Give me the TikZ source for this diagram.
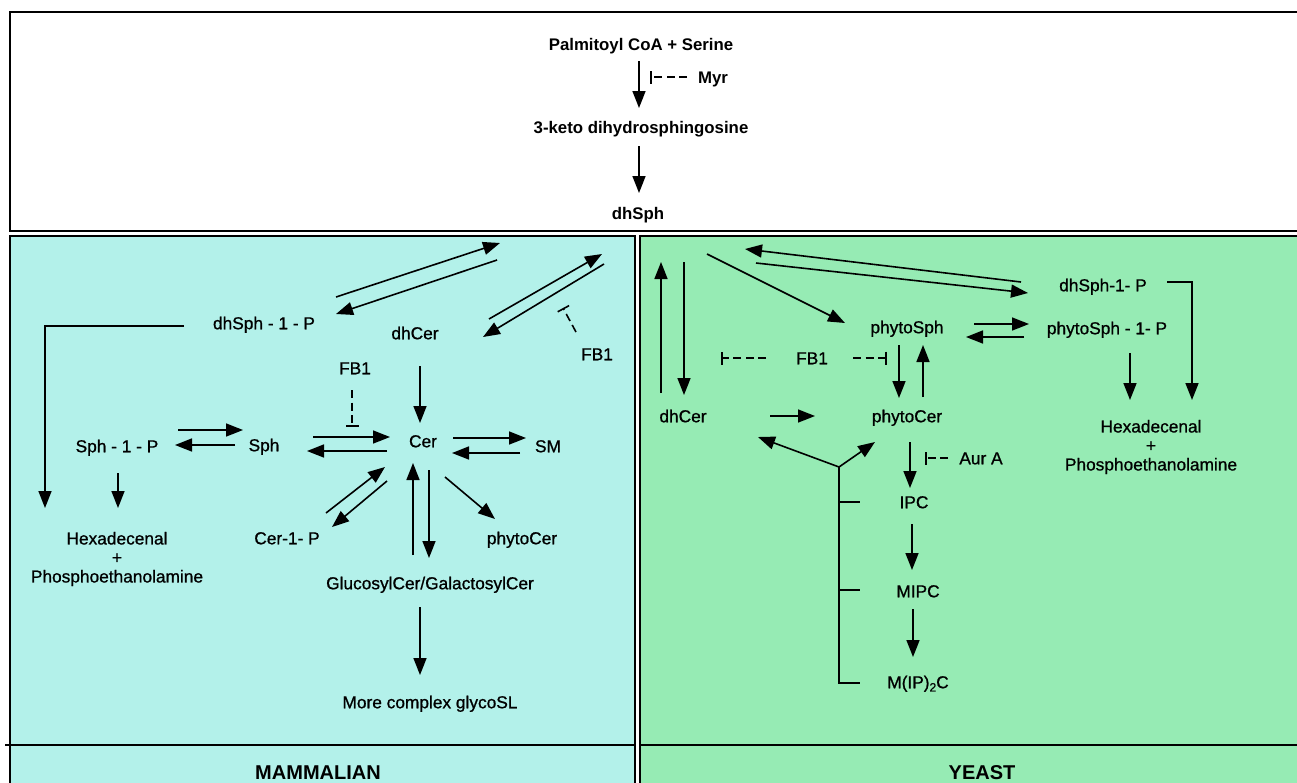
\documentclass[tikz,border=0pt]{standalone}
\usepackage{fontspec}
\setmainfont{Liberation Sans}
\newfontfamily\medfont[FakeBold=0.9]{Liberation Sans}
\usetikzlibrary{arrows.meta}
\definecolor{cyanbg}{RGB}{179,241,234}
\definecolor{greenbg}{RGB}{150,235,180}
\begin{document}
\begin{tikzpicture}[x=1pt,y=-1pt,
  lbl/.style={font=\medfont\fontsize{17.3}{19}\selectfont, inner sep=0pt, text height=12.5pt, text depth=0pt},
  mlbl/.style={font=\medfont\fontsize{17.3}{19}\selectfont, inner sep=0pt, align=center},
  blbl/.style={font=\fontsize{16.8}{19}\selectfont\bfseries, inner sep=0pt, text height=12pt, text depth=0pt},
  title/.style={font=\fontsize{20}{22}\selectfont\bfseries, inner sep=0pt, text height=14pt, text depth=0pt},
  arr/.style={line width=1.6pt, -{Triangle[length=17pt,width=13pt]}},
  ln/.style={line width=1.6pt},
  inh/.style={line width=1.6pt, dash pattern=on 8pt off 4.5pt, -{Bar[width=13pt]}},
  frame/.style={line width=2.2pt},
  thinframe/.style={line width=1.5pt}]
\useasboundingbox (0,0) rectangle (1297,782);
\clip (0,0) rectangle (1297,782);
\fill[white] (0,0) rectangle (1297,782);

% frames
\draw[frame] (10,12) rectangle (1320,231);
\draw[thinframe, fill=cyanbg] (10,236) rectangle (635,800);
\draw[thinframe, fill=greenbg] (640,236) rectangle (1320,800);
\draw[frame] (5,745) -- (635,745);
\draw[frame] (640,745) -- (1320,745);

% ---------- top ----------
\node[blbl] (pal) at (641,44) {Palmitoyl CoA + Serine};
\node[blbl] (myr) at (713,77) {Myr};
\node[blbl] (keto) at (641,127) {3-keto dihydrosphingosine};
\node[blbl] (dhsph) at (638,213) {dhSph};
\coordinate (t1s) at (639,61);  \coordinate (t1e) at (639,108);
\coordinate (t2s) at (639,146); \coordinate (t2e) at (639,193);
\coordinate (m1s) at (687,77);  \coordinate (m1e) at (650,77);
\draw[arr] (t1s) -- (t1e);
\draw[arr] (t2s) -- (t2e);
\draw[inh] (m1s) -- (m1e);

% ---------- mammalian ----------
\node[lbl] (Ldhsphp) at (264,323) {dhSph - 1 - P};
\node[lbl] (Ldhcer) at (415,333) {dhCer};
\node[lbl] (Lfbm) at (355,368) {FB1};
\node[lbl] (Lfbr) at (597,354) {FB1};
\node[lbl] (Lsphp) at (117,446) {Sph - 1 - P};
\node[lbl] (Lsph) at (264,445) {Sph};
\node[lbl] (Lcer) at (423,441) {Cer};
\node[lbl] (Lsm) at (548,446) {SM};
\node[mlbl] (Lhexa) at (117,559) {Hexadecenal\\+\\Phosphoethanolamine};
\node[lbl] (Lcer1p) at (287,538) {Cer-1- P};
\node[lbl] (Lphyto) at (522,538) {phytoCer};
\node[lbl] (Lgluc) at (430,583) {GlucosylCer/GalactosylCer};
\node[lbl] (Lmore) at (430,702) {More complex glycoSL};
\node[title] (Lmam) at (318,772) {MAMMALIAN};

\coordinate (L1s) at (336,297); \coordinate (L1e) at (500,243);
\coordinate (L2s) at (497,260); \coordinate (L2e) at (336,314);
\coordinate (L3s) at (489,319); \coordinate (L3e) at (602,254);
\coordinate (L4s) at (604,264); \coordinate (L4e) at (483,337);
\coordinate (Lf1s) at (576,332); \coordinate (Lf1e) at (563,308);
\coordinate (L5s) at (184,326); \coordinate (L5e) at (45,508);
\coordinate (L6s) at (118,473); \coordinate (L6e) at (118,508);
\coordinate (L7s) at (178,430); \coordinate (L7e) at (243,430);
\coordinate (L8s) at (235,445); \coordinate (L8e) at (175,445);
\coordinate (Lf2s) at (352,390); \coordinate (Lf2e) at (352,427);
\coordinate (L9s) at (313,437); \coordinate (L9e) at (390,437);
\coordinate (L10s) at (387,451); \coordinate (L10e) at (307,451);
\coordinate (L11s) at (420,366); \coordinate (L11e) at (420,423);
\coordinate (L12s) at (453,438); \coordinate (L12e) at (526,438);
\coordinate (L13s) at (520,453); \coordinate (L13e) at (452,453);
\coordinate (L14s) at (326,513); \coordinate (L14e) at (385,467);
\coordinate (L15s) at (387,481); \coordinate (L15e) at (332,527);
\coordinate (L16s) at (413,555); \coordinate (L16e) at (413,463);
\coordinate (L17s) at (429,470); \coordinate (L17e) at (429,558);
\coordinate (L18s) at (445,477); \coordinate (L18e) at (495,519);
\coordinate (L19s) at (420,607); \coordinate (L19e) at (420,675);

\draw[arr] (L1s) -- (L1e);
\draw[arr] (L2s) -- (L2e);
\draw[arr] (L3s) -- (L3e);
\draw[arr] (L4s) -- (L4e);
\draw[inh] (Lf1s) -- (Lf1e);
\draw[arr] (L5s) -| (L5e);
\draw[arr] (L6s) -- (L6e);
\draw[arr] (L7s) -- (L7e);
\draw[arr] (L8s) -- (L8e);
\draw[inh] (Lf2s) -- (Lf2e);
\draw[arr] (L9s) -- (L9e);
\draw[arr] (L10s) -- (L10e);
\draw[arr] (L11s) -- (L11e);
\draw[arr] (L12s) -- (L12e);
\draw[arr] (L13s) -- (L13e);
\draw[arr] (L14s) -- (L14e);
\draw[arr] (L15s) -- (L15e);
\draw[arr] (L16s) -- (L16e);
\draw[arr] (L17s) -- (L17e);
\draw[arr] (L18s) -- (L18e);
\draw[arr] (L19s) -- (L19e);

% ---------- yeast ----------
\node[lbl] (Ydhcer) at (683,416) {dhCer};
\node[lbl] (Yphsph) at (907,327) {phytoSph};
\node[lbl] (Yphcer) at (907,416) {phytoCer};
\node[lbl] (Ydhsphp) at (1103,285) {dhSph-1- P};
\node[lbl] (Yphsphp) at (1107,328) {phytoSph - 1- P};
\node[mlbl] (Yhexa) at (1151,447) {Hexadecenal\\+\\Phosphoethanolamine};
\node[lbl] (Yfb) at (812,358) {FB1};
\node[lbl] (Yaur) at (981,458) {Aur A};
\node[lbl] (Yipc) at (914,502) {IPC};
\node[lbl] (Ymipc) at (918,591) {MIPC};
\node[lbl] (Ymip2c) at (918,682) {M(IP)\raisebox{-0.35ex}{\fontsize{12}{12}\selectfont 2}C};
\node[title] (Yyeast) at (982,772) {YEAST};

\coordinate (R1s) at (661,393); \coordinate (R1e) at (661,262);
\coordinate (R2s) at (684,262); \coordinate (R2e) at (684,395);
\coordinate (R3s) at (707,254); \coordinate (R3e) at (845,323);
\coordinate (R4s) at (1021,282); \coordinate (R4e) at (745,249);
\coordinate (R5s) at (756,263); \coordinate (R5e) at (1028,293);
\coordinate (R6s) at (1167,282); \coordinate (R6e) at (1192,400);
\coordinate (R7s) at (974,324); \coordinate (R7e) at (1029,324);
\coordinate (R8s) at (1024,337); \coordinate (R8e) at (966,337);
\coordinate (R9s) at (1130,353); \coordinate (R9e) at (1130,400);
\coordinate (Yf1s) at (766,358); \coordinate (Yf1e) at (721,358);
\coordinate (Yf2s) at (853,358); \coordinate (Yf2e) at (887,358);
\coordinate (R10s) at (899,345); \coordinate (R10e) at (899,398);
\coordinate (R11s) at (923,397); \coordinate (R11e) at (923,345);
\coordinate (R12s) at (770,416); \coordinate (R12e) at (815,416);
\coordinate (fork) at (839,467);
\coordinate (R13e) at (758,437);
\coordinate (R14e) at (875,442);
\coordinate (b1) at (839,502); \coordinate (b1e) at (860,502);
\coordinate (b2) at (839,590); \coordinate (b2e) at (860,590);
\coordinate (b3) at (839,683); \coordinate (b3e) at (860,683);
\coordinate (R15s) at (910,442); \coordinate (R15e) at (910,488);
\coordinate (Yas) at (948,458); \coordinate (Yae) at (925,458);
\coordinate (R16s) at (912,524); \coordinate (R16e) at (912,570);
\coordinate (R17s) at (913,609); \coordinate (R17e) at (913,657);

\draw[arr] (R1s) -- (R1e);
\draw[arr] (R2s) -- (R2e);
\draw[arr] (R3s) -- (R3e);
\draw[arr] (R4s) -- (R4e);
\draw[arr] (R5s) -- (R5e);
\draw[arr] (R6s) -| (R6e);
\draw[arr] (R7s) -- (R7e);
\draw[arr] (R8s) -- (R8e);
\draw[arr] (R9s) -- (R9e);
\draw[inh] (Yf1s) -- (Yf1e);
\draw[inh] (Yf2s) -- (Yf2e);
\draw[arr] (R10s) -- (R10e);
\draw[arr] (R11s) -- (R11e);
\draw[arr] (R12s) -- (R12e);
\draw[arr] (fork) -- (R13e);
\draw[arr] (fork) -- (R14e);
\draw[ln] (fork) -- (b3) -- (b3e);
\draw[ln] (b1) -- (b1e);
\draw[ln] (b2) -- (b2e);
\draw[arr] (R15s) -- (R15e);
\draw[inh] (Yas) -- (Yae);
\draw[arr] (R16s) -- (R16e);
\draw[arr] (R17s) -- (R17e);
\end{tikzpicture}
\end{document}
